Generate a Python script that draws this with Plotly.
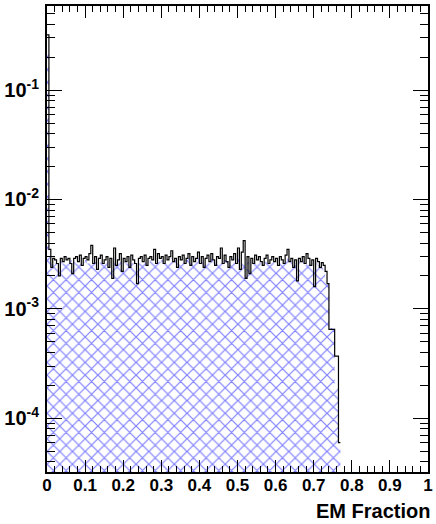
import numpy as np
import plotly.graph_objects as go

# ---- data (bin contents in units of 1e-3), 0.005-wide bins starting at 0 ----
BIN_WIDTH = 0.005
SCALE = 1e-3

data_vals = [
    320, 3.5, 2.4, 2.9, 2.8, 2.6, 2.0, 2.9, 2.7, 3.0,
    2.8, 2.9, 2.6, 2.1, 2.9, 3.0, 2.7, 3.1, 2.5, 2.9,
    3.0, 2.8, 3.2, 3.8, 2.6, 3.0, 2.3, 2.9, 3.1, 2.6,
    2.8, 3.0, 2.4, 2.9, 1.9, 3.6, 2.5, 2.8, 3.2, 2.2,
    2.9, 2.7, 3.0, 2.4, 3.1, 2.8, 2.6, 1.7, 2.9, 3.0,
    2.7, 3.1, 2.5, 2.9, 3.0, 2.8, 3.5, 2.6, 3.2, 2.9,
    3.0, 2.6, 3.1, 2.8, 3.0, 3.4, 2.7, 2.9, 2.4, 3.0,
    2.8, 3.1, 2.6, 2.9, 3.2, 2.5, 3.0, 2.7, 2.9, 3.3,
    2.6, 3.0, 2.4, 2.9, 3.1, 2.7, 3.2, 2.8, 2.5, 3.0,
    2.9, 3.6, 2.6, 3.1, 2.7, 2.4, 3.0, 2.8, 3.2, 2.6,
    3.6, 2.3, 3.3, 4.2, 1.9, 3.0, 2.1, 2.9, 2.6, 3.1,
    2.8, 3.0, 2.7, 2.5, 2.9, 3.1, 2.6, 2.8, 3.0, 2.7,
    2.9, 2.5, 3.0, 2.8, 2.6, 3.1, 3.5, 2.7, 2.9, 2.4,
    2.8, 1.8, 2.9, 2.7, 3.0, 2.6, 3.2, 2.9, 2.5, 2.8,
    1.6, 2.9, 2.7, 2.4, 2.65, 2.5, 2.2, 1.7, 0.65, 0.65,
    0.65, 0.37, 0.37, 0.06,
]

mc_vals = [
    240, 3.0, 2.6, 2.5, 2.7, 2.6, 2.4, 2.7, 2.6, 2.8,
    2.7, 2.6, 2.8, 2.5, 2.7, 2.6, 2.8, 2.7, 2.5, 2.7,
    2.8, 2.6, 2.7, 2.9, 2.6, 2.7, 2.4, 2.6, 2.8, 2.7,
    2.6, 2.8, 2.5, 2.7, 2.4, 2.9, 2.6, 2.7, 2.8, 2.5,
    2.7, 2.6, 2.8, 2.5, 2.7, 2.6, 2.5, 2.3, 2.6, 2.8,
    2.7, 2.8, 2.6, 2.7, 2.8, 2.7, 2.9, 2.6, 2.8, 2.7,
    2.8, 2.6, 2.9, 2.7, 2.8, 2.9, 2.7, 2.8, 2.6, 2.7,
    2.8, 2.7, 2.6, 2.8, 2.9, 2.6, 2.7, 2.8, 2.7, 2.9,
    2.6, 2.8, 2.5, 2.7, 2.8, 2.6, 2.9, 2.7, 2.6, 2.8,
    2.7, 2.9, 2.6, 2.8, 2.7, 2.5, 2.8, 2.7, 2.9, 2.6,
    2.9, 2.5, 2.8, 3.0, 2.3, 2.7, 2.4, 2.7, 2.6, 2.8,
    2.7, 2.8, 2.6, 2.5, 2.7, 2.8, 2.6, 2.7, 2.8, 2.6,
    2.7, 2.5, 2.8, 2.7, 2.6, 2.8, 2.9, 2.6, 2.7, 2.5,
    2.6, 2.3, 2.7, 2.6, 2.8, 2.5, 2.8, 2.7, 2.5, 2.6,
    2.2, 2.6, 2.5, 2.4, 2.4, 2.2, 1.9, 1.75, 0.67, 0.67,
    0.67, 0.19, 0.19, 0.06,
]

x_tick_vals = [0, 0.1, 0.2, 0.3, 0.4, 0.5, 0.6, 0.7, 0.8, 0.9, 1.0]
x_tick_text = ["0", "0.1", "0.2", "0.3", "0.4", "0.5", "0.6", "0.7", "0.8", "0.9", "1"]
y_tick_vals = [1e-4, 1e-3, 1e-2, 1e-1]
y_tick_text = ["10<sup>-4</sup>", "10<sup>-3</sup>", "10<sup>-2</sup>", "10<sup>-1</sup>"]
x_title = "EM Fraction"

# ---- build step coordinates from bin edges ----
n = len(data_vals)
edges = np.arange(n + 1) * BIN_WIDTH
data_y = [v * SCALE for v in data_vals] + [data_vals[-1] * SCALE]
mc_y = [v * SCALE for v in mc_vals] + [mc_vals[-1] * SCALE]

y_minor = [k * 10.0 ** e for e in range(-5, 1) for k in range(2, 10)]

FONT = "Liberation Sans, Arial, sans-serif"

fig = go.Figure()
fig.add_trace(go.Scatter(
    x=edges, y=mc_y, mode="lines", line=dict(shape="hv", width=0, color="#0000ff"),
    fill="tozeroy", fillcolor="white",
    fillpattern=dict(shape="x", fgcolor="#0000ff", bgcolor="white", size=9, solidity=0.25),
    hoverinfo="skip", showlegend=False,
))
fig.add_trace(go.Scatter(
    x=edges, y=data_y, mode="lines", line=dict(shape="hv", width=1.2, color="black"),
    hoverinfo="skip", showlegend=False,
))

fig.update_layout(
    width=436, height=524,
    margin=dict(l=47, r=3, t=6, b=52),
    paper_bgcolor="white", plot_bgcolor="white",
    font=dict(family=FONT, color="black"),
    showlegend=False,
)
fig.update_xaxes(
    range=[0, 1], tickmode="array", tickvals=x_tick_vals, ticktext=x_tick_text,
    ticks="inside", ticklen=12, tickwidth=1, tickcolor="black",
    minor=dict(ticks="inside", dtick=0.02, tick0=0, ticklen=6, tickwidth=1, tickcolor="black"),
    showline=True, linewidth=2, linecolor="black", mirror="allticks",
    showgrid=False, zeroline=False,
    tickfont=dict(family=FONT, size=17, weight="bold"),
    ticklabelstandoff=-3,
)
fig.update_yaxes(
    type="log", range=[-4.491, -0.2315], tickmode="array", tickvals=y_tick_vals, ticktext=y_tick_text,
    ticks="inside", ticklen=15, tickwidth=1, tickcolor="black",
    minor=dict(ticks="inside", tickmode="array", tickvals=y_minor, ticklen=8, tickwidth=1, tickcolor="black"),
    showline=True, linewidth=2, linecolor="black", mirror="allticks",
    showgrid=False, zeroline=False,
    tickfont=dict(family=FONT, size=20, weight="bold"),
    ticklabelstandoff=2,
)
fig.add_annotation(
    x=1, xref="paper", xanchor="right", xshift=4, y=-0.084, yref="paper", yanchor="middle",
    text=x_title, showarrow=False, font=dict(family=FONT, size=20, weight="bold", color="black"),
)

fig.write_html("out.html")
